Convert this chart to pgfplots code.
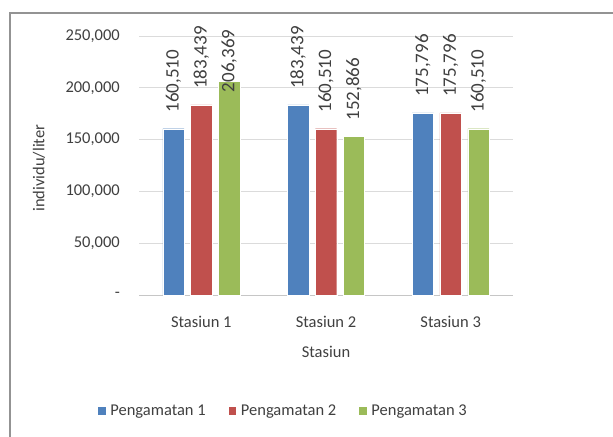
\documentclass[border=0pt]{standalone}
\usepackage{pgfplots}
\usepackage{pgfplotstable}
\pgfplotsset{compat=1.18}
\usepackage{fontspec}
\setmainfont{Carlito}
\definecolor{cb}{HTML}{4F81BD}
\definecolor{cr}{HTML}{C0504D}
\definecolor{cg}{HTML}{9BBB59}
\definecolor{tx}{HTML}{404040}
\newcommand\f{\fontsize{16.5bp}{19bp}\selectfont}
\newcommand\fl{\fontsize{19bp}{21bp}\selectfont}
\pgfplotstableread{
x y g
0 160510 16
1 183439 16
2 175796 16
}\tA
\pgfplotstableread{
x y g
0 183439 16
1 160510 16
2 175796 16
}\tB
\pgfplotstableread{
x y g
0 206369 -11
1 152866 16
2 160510 16
}\tC
\begin{document}
\begin{tikzpicture}
\useasboundingbox (0bp,0bp) rectangle (613bp,-437bp);
\fill[white] (0bp,0bp) rectangle (613bp,-437bp);
\draw[color=gray!85, line width=1.5bp] (10bp,-437bp) -- (10bp,-13bp) -- (613bp,-13bp);
\begin{axis}[
  at={(139bp,-295bp)}, anchor=south west,
  width=374bp, height=259bp, scale only axis,
  ymin=0, ymax=250000, xmin=-0.5, xmax=2.5,
  ybar=6.4bp, bar width=21.4bp,
  scaled y ticks=false,
  xtick={0,1,2}, xticklabels={Stasiun 1,Stasiun 2,Stasiun 3},
  ytick={0,50000,100000,150000,200000,250000},
  yticklabels={{-},{50,000},{100,000},{150,000},{200,000},{250,000}},
  ymajorgrids, grid style={color=gray!28, line width=1bp},
  axis x line=bottom, axis y line=left, axis line style={-},
  y axis line style={draw=none}, x axis line style={draw=gray!45, line width=1bp},
  major tick length=0pt,
  tick label style={font=\f, text=tx},
  yticklabel style={inner sep=0pt, anchor=east, xshift=-19bp},
  xticklabel style={inner sep=0pt, anchor=north, yshift=-21bp},
  xlabel={Stasiun}, ylabel={individu/liter},
  xlabel style={font=\f, text=tx, at={(axis description cs:0.5,-0.220)}, anchor=center},
  ylabel style={font=\f, text=tx, at={(axis description cs:-0.2674,0.49)}, anchor=center},
  visualization depends on={\thisrow{g} \as \gap},
  nodes near coords,
  every node near coord/.append style={font=\fl, text=tx, yshift=\gap bp, rotate=90, anchor=west,
     inner sep=0pt,
     /pgf/number format/.cd, fixed, precision=0, 1000 sep={,}, assume math mode=true},
  legend style={at={(axis description cs:0.390,-0.448)}, anchor=center, draw=none,
     font=\f, text=tx, legend columns=3,
     nodes={inner xsep=4.5bp, inner ysep=0pt},
     /tikz/every even column/.append style={column sep=18.7bp}},
  legend image code/.code={\fill[#1, draw=none] (0bp,-3.75bp) rectangle (7.5bp,3.75bp);},
]
\addplot[fill=cb, draw=white, line width=0.4bp] table[x=x,y=y] {\tA};
\addplot[fill=cr, draw=white, line width=0.4bp] table[x=x,y=y] {\tB};
\addplot[fill=cg, draw=white, line width=0.4bp] table[x=x,y=y] {\tC};
\legend{Pengamatan 1,Pengamatan 2,Pengamatan 3}
\end{axis}
\end{tikzpicture}
\end{document}
